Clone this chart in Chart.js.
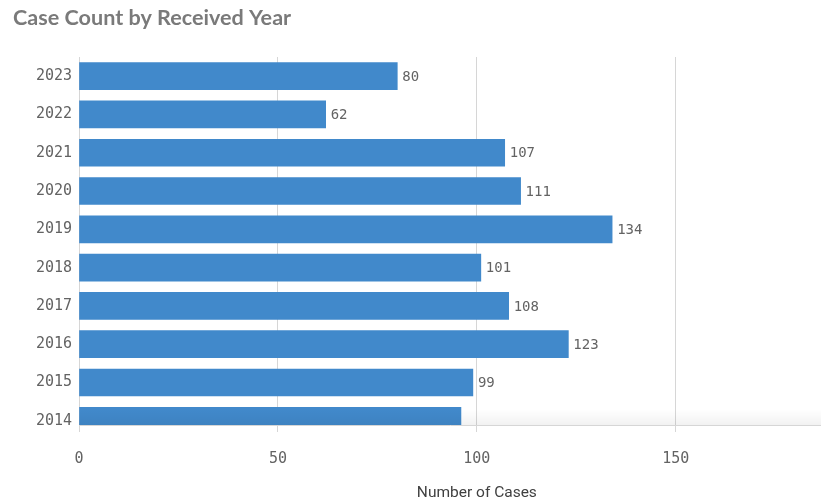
<!DOCTYPE html>
<html>
<head>
<meta charset="utf-8">
<script src="https://cdn.jsdelivr.net/npm/chart.js@4/dist/chart.umd.min.js"></script>
<style>
  html, body { margin: 0; padding: 0; background: #fff; }
  #wrap { width: 821px; height: 503px; position: relative; }
</style>
</head>
<body>
<div id="wrap"><canvas id="c" width="821" height="503"></canvas></div>
<script>
// ---- data ----
const chartTitle = 'Case Count by Received Year';
const axisTitle = 'Number of Cases';
const years = ['2023', '2022', '2021', '2020', '2019', '2018', '2017', '2016', '2015', '2014'];
const caseCounts = [80, 62, 107, 111, 134, 101, 108, 123, 99, 96];
const xTickValues = [0, 50, 100, 150];

const MONO = '"DejaVu Sans Mono", "Liberation Mono", monospace';
const GRID = '#d6d6d6';
const TEXT = '#636363';

const points = caseCounts.map((v, i) => ({ x: v, y: i }));

const titlePlugin = {
  id: 'customTitle',
  afterDraw(chart) {
    const ctx = chart.ctx;
    ctx.save();
    ctx.font = 'bold 21.6px Lato, "Open Sans", sans-serif';
    ctx.fillStyle = '#7a7a7a';
    ctx.textBaseline = 'middle';
    ctx.textAlign = 'left';
    ctx.fillText(chartTitle, 13, 18);
    // x axis title
    const xs = chart.scales.x;
    ctx.font = '15.5px Roboto, "Noto Sans", sans-serif';
    ctx.fillStyle = '#404040';
    ctx.textAlign = 'center';
    ctx.fillText(axisTitle, xs.getPixelForValue(100), 493);
    ctx.restore();
  }
};

const valueLabels = {
  id: 'valueLabels',
  afterDatasetsDraw(chart) {
    const ctx = chart.ctx;
    const area = chart.chartArea;
    // faint shade just above the axis
    ctx.save();
    const g = ctx.createLinearGradient(0, area.bottom - 16, 0, area.bottom);
    g.addColorStop(0, 'rgba(0,0,0,0)');
    g.addColorStop(1, 'rgba(0,0,0,0.05)');
    ctx.fillStyle = g;
    ctx.fillRect(area.left, area.bottom - 16, area.right - area.left, 16);
    ctx.restore();

    ctx.save();
    ctx.font = '14px ' + MONO;
    ctx.fillStyle = TEXT;
    ctx.textBaseline = 'middle';
    ctx.textAlign = 'left';
    const meta = chart.getDatasetMeta(0);
    meta.data.forEach((bar, i) => {
      const half = bar.height / 2;
      if (bar.y + half > area.bottom + 0.5) return; // bar cut off by the axis
      ctx.fillText(String(caseCounts[i]), bar.x + 5, bar.y + 1);
    });
    ctx.restore();
  }
};

new Chart(document.getElementById('c'), {
  type: 'bar',
  data: {
    datasets: [{
      data: points,
      backgroundColor: '#4189cb',
      barThickness: 27,
      clip: 0
    }]
  },
  plugins: [titlePlugin, valueLabels],
  options: {
    indexAxis: 'y',
    responsive: false,
    animation: false,
    devicePixelRatio: 1,
    layout: { padding: { top: 57, left: 0, right: 0, bottom: 0 } },
    plugins: {
      legend: { display: false },
      tooltip: { enabled: false },
      title: { display: false }
    },
    scales: {
      x: {
        type: 'linear',
        position: 'bottom',
        min: 0,
        max: 186.5,
        offset: false,
        afterBuildTicks(scale) {
          scale.ticks = xTickValues.map(v => ({ value: v }));
        },
        afterFit(scale) { scale.height = 78; },
        grid: { color: GRID, lineWidth: 1, drawTicks: true, tickLength: 7, tickColor: GRID, offset: false },
        border: { display: true, color: GRID, width: 1 },
        ticks: {
          font: { family: MONO, size: 15 },
          color: TEXT,
          padding: 18,
          maxRotation: 0
        },
        title: { display: false }
      },
      y: {
        type: 'linear',
        reverse: true,
        offset: false,
        min: -0.5,
        max: 9.11,
        afterBuildTicks(scale) {
          scale.ticks = years.map((_, i) => ({ value: i }));
        },
        afterFit(scale) { scale.width = 79; },
        grid: { display: false, drawTicks: false, offset: false },
        border: { display: true, color: GRID, width: 1 },
        ticks: {
          font: { family: MONO, size: 15 },
          color: TEXT,
          padding: 7,
          callback: (v) => years[v]
        }
      }
    }
  }
});
</script>
</body>
</html>
